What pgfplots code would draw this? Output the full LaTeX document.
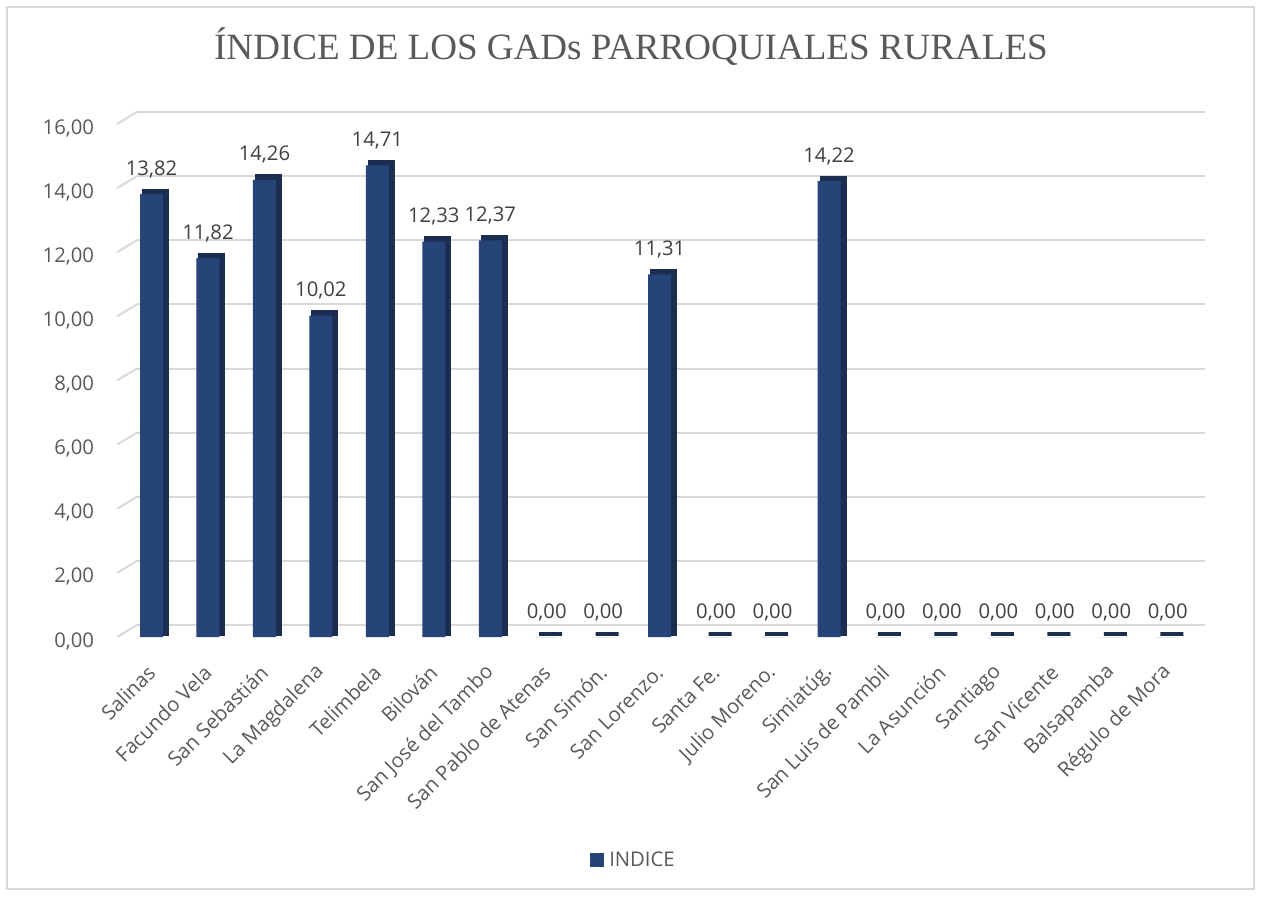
\documentclass[border=0pt]{standalone}
\usepackage{fontspec}
\setmainfont{Open Sans}
\newfontfamily\titlefont{Liberation Serif}
\usepackage{pgfplots}
\usepackage{pgfplotstable}
\pgfplotsset{compat=1.18}
\definecolor{barfront}{HTML}{264478}
\definecolor{barside}{HTML}{1B2E52}
\definecolor{gridc}{HTML}{D9D9D9}
\definecolor{txt}{HTML}{595959}
\definecolor{lbl}{HTML}{404040}

\pgfplotstableread{
x y
0 13.82
1 11.82
2 14.26
3 10.02
4 14.71
5 12.33
6 12.37
7 0
8 0
9 11.31
10 0
11 0
12 14.22
13 0
14 0
15 0
16 0
17 0
18 0
}\indice

\begin{document}
\begin{tikzpicture}[x=0.75bp,y=0.75bp]
% lienzo en px (origen abajo a la izquierda)
\path[use as bounding box] (0,0) rectangle (1261,896);
\draw[gridc, line width=1.1bp] (7,7) rectangle (1254,889);
\node[anchor=base, text=txt, font=\titlefont\fontsize{27.8bp}{30bp}\selectfont] at (631,836)
  {ÍNDICE DE LOS GADs PARROQUIALES RURALES};
\coordinate (SW) at (137,259);
\begin{axis}[
  at={(SW)}, anchor=south west,
  width=801bp, height=384.75bp, scale only axis,
  clip=false,
  ybar, bar width=17.25bp,
  xmin=-0.257, xmax=18.66,
  ymin=0, ymax=16,
  ytick={0,2,...,16},
  xtick={0,...,18},
  xticklabels={Salinas, Facundo Vela, San Sebastián, La Magdalena, Telimbela, Bilován,
    San José del Tambo, San Pablo de Atenas, San Simón., San Lorenzo., Santa Fe.,
    Julio Moreno., Simiatúg., San Luis de Pambil, La Asunción, Santiago, San Vicente,
    Balsapamba, Régulo de Mora},
  axis line style={draw=none},
  major tick length=0pt,
  ymajorgrids,
  major grid style={draw=gridc, line width=1.5bp, yshift=9bp},
  scaled y ticks=false,
  /pgf/number format/fixed,
  /pgf/number format/fixed zerofill,
  /pgf/number format/precision=2,
  /pgf/number format/use comma,
  /pgf/number format/assume math mode=true,
  ticklabel style={font=\fontsize{15.2bp}{18bp}\selectfont, text=txt},
  yticklabel style={anchor=east, inner sep=0pt, xshift=-32bp, yshift=-3bp},
  xticklabel style={yshift=-24bp, rotate=45, anchor=east, inner sep=0pt},
  nodes near coords,
  nodes near coords style={font=\fontsize{15.2bp}{18bp}\selectfont, text=lbl,
    anchor=south, inner sep=0pt, yshift=12bp},
  legend style={at={(0.465,-0.435)}, anchor=center, draw=none, fill=none,
    font=\fontsize{15.2bp}{18bp}\selectfont, text=txt},
  legend image code/.code={\fill[barfront] (0bp,-5.25bp) rectangle (10.5bp,5.25bp);},
]
\pgfplotsinvokeforeach{0,2,...,16}{
  \draw[gridc, line width=1.5bp] ([xshift=-15bp]axis cs:-0.257,#1) -- ([yshift=9bp]axis cs:-0.257,#1);
}
\addplot[fill=barside, draw=barside, line width=3bp, bar shift=0pt,
  xshift=3bp, yshift=2.5bp, nodes near coords={}, forget plot]
  table[x=x,y=y] {\indice};
\addplot[fill=barfront, draw=none, bar shift=0pt]
  table[x=x,y=y] {\indice};
\addlegendentry{\hspace{2bp}INDICE}
\end{axis}
\end{tikzpicture}
\end{document}
